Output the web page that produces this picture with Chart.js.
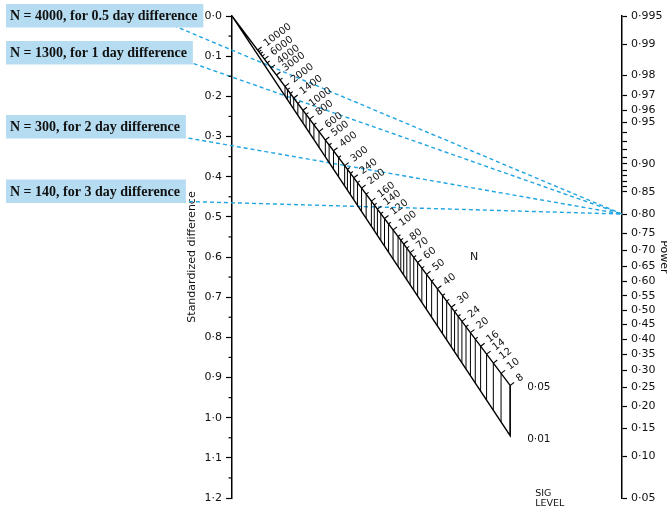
<!DOCTYPE html>
<html>
<head>
<meta charset="utf-8">
<script src="https://cdn.jsdelivr.net/npm/chart.js@4.4.1/dist/chart.umd.min.js"></script>
<style>
  html, body { margin: 0; padding: 0; background: #fff; }
  #wrap { width: 667px; height: 509px; }
</style>
</head>
<body>
<div id="wrap"><canvas id="nomo" width="667" height="509"></canvas></div>
<script>
// ── Data ──────────────────────────────────────────────────────────────────────
const sigLevels   = [0.05, 0.01];
const sigLabels   = ["0·05", "0·01"];
const nMajor      = [10000, 6000, 4000, 3000, 2000, 1400, 1000, 800, 600, 500, 400, 300, 240, 200,
                     160, 140, 120, 100, 80, 70, 60, 50, 40, 30, 24, 20, 16, 14, 12, 10, 8];
const nMinor      = [9000, 8000, 7000, 5000, 2500, 1800, 1600, 1200, 900, 700, 450, 350, 280, 260,
                     220, 180, 150, 130, 110, 90, 85, 75, 65, 55, 45, 36, 33, 28, 26, 22, 18];
const diffMinor   = [0.05, 0.15, 0.25, 0.35, 0.45, 0.55, 0.65, 0.75, 0.85, 0.95, 1.05, 1.15];
const powerTicks  = [0.995, 0.99, 0.98, 0.97, 0.96, 0.95, 0.94, 0.93, 0.92, 0.91, 0.90, 0.89, 0.88,
                     0.87, 0.86, 0.85, 0.80, 0.75, 0.70, 0.65, 0.60, 0.55, 0.50, 0.45, 0.40, 0.35,
                     0.30, 0.25, 0.20, 0.15, 0.10, 0.05];
const powerLabels = ["0·995", "0·99", "0·98", "0·97", "0·96", "0·95", "", "", "", "", "0·90", "", "",
                     "", "", "0·85", "0·80", "0·75", "0·70", "0·65", "0·60", "0·55", "0·50", "0·45",
                     "0·40", "0·35", "0·30", "0·25", "0·20", "0·15", "0·10", "0·05"];
const callouts    = ["N = 4000, for 0.5 day difference", "N = 1300, for 1 day difference",
                     "N = 300, for 2 day difference", "N = 140, for 3 day difference"];
const calloutDiff = [0.085, 0.152, 0.323, 0.465];
const targetPower = 0.80;

// ── Normal quantile (Acklam) ──────────────────────────────────────────────────
function probit(p) {
  const a = [-39.69683028665376, 220.9460984245205, -275.9285104469687, 138.3577518672690, -30.66479806614716, 2.506628277459239];
  const b = [-54.47609879822406, 161.5858368580409, -155.6989798598866, 66.80131188771972, -13.28068155288572];
  const c = [-0.007784894002430293, -0.3223964580411365, -2.400758277161838, -2.549732539343734, 4.374664141464968, 2.938163982698783];
  const d = [0.007784695709041462, 0.3224671290700398, 2.445134137142996, 3.754408661907416];
  const tail = q => (((((c[0]*q+c[1])*q+c[2])*q+c[3])*q+c[4])*q+c[5]) / ((((d[0]*q+d[1])*q+d[2])*q+d[3])*q+1);
  if (p < 0.02425) return tail(Math.sqrt(-2 * Math.log(p)));
  if (p > 0.97575) return -tail(Math.sqrt(-2 * Math.log(1 - p)));
  const q = p - 0.5, r = q * q;
  return (((((a[0]*r+a[1])*r+a[2])*r+a[3])*r+a[4])*r+a[5])*q / (((((b[0]*r+b[1])*r+b[2])*r+b[3])*r+b[4])*r+1);
}

// ── Nomogram geometry (x: 0 = difference axis, 1 = power axis) ────────────────
const DIFF_MAX = 1.2;
const zTop = probit(powerTicks[0]);
const zBot = probit(powerTicks[powerTicks.length - 1]);
const powerToDiff = p => DIFF_MAX * (zTop - probit(p)) / (zTop - zBot);
const slopeB  = DIFF_MAX / (zTop - zBot);
const nPos    = n => 1 / (1 + slopeB * Math.sqrt(n) / 2);
const sigK    = sigLevels.map(a => DIFF_MAX * zTop / (zTop - zBot) + slopeB * probit(1 - a / 2));
const nEnd    = nPos(nMajor[nMajor.length - 1]);
const pTarget = powerToDiff(targetPower);
const X_LEFT  = -0.2;

const datasets = [{
  data: [{ x: 0, y: 0 }, { x: nEnd, y: nEnd * sigK[0] }, { x: nEnd, y: nEnd * sigK[1] }, { x: 0, y: 0 }],
  borderColor: "#000", borderWidth: 1.4, showLine: true, pointRadius: 0, fill: false,
}];
calloutDiff.forEach(dv => datasets.push({
  data: [{ x: X_LEFT, y: dv + X_LEFT * (pTarget - dv) }, { x: 1, y: pTarget }],
  borderColor: "#1fa5e2", borderWidth: 1.4, borderDash: [4, 3], showLine: true,
  pointRadius: 0, fill: false, clip: false,
}));

// ── Custom drawing: N scale, hatching, minor ticks, notes ─────────────────────
const nomoPlugin = {
  id: "nomoPlugin",
  afterDatasetsDraw(chart) {
    const { ctx, chartArea, scales: { x, y } } = chart;
    const pt = (t, k) => ({ x: x.getPixelForValue(t), y: y.getPixelForValue(t * k) });
    ctx.save();
    ctx.strokeStyle = "#000";
    ctx.fillStyle   = "#111";

    // minor ticks on difference axis
    ctx.lineWidth = 1.2;
    diffMinor.forEach(dv => {
      const yy = y.getPixelForValue(dv);
      ctx.beginPath(); ctx.moveTo(chartArea.left - 3.5, yy); ctx.lineTo(chartArea.left, yy); ctx.stroke();
    });

    // hatching between the two significance lines
    ctx.lineWidth = 1;
    [...nMajor, ...nMinor].filter(n => n <= 2000).forEach(n => {
      const a = pt(nPos(n), sigK[0]), b = pt(nPos(n), sigK[1]);
      ctx.beginPath(); ctx.moveTo(a.x, a.y); ctx.lineTo(b.x, b.y); ctx.stroke();
    });

    // N ticks and labels
    const o = pt(0, sigK[0]), e = pt(1, sigK[0]);
    const len = Math.hypot(e.x - o.x, e.y - o.y);
    const ux = (e.x - o.x) / len, uy = (e.y - o.y) / len;
    const nx = uy, ny = -ux;
    const ang = Math.atan2(ny, nx);
    ctx.lineWidth = 1.1;
    const drawTick = (n, l) => {
      const p = pt(nPos(n), sigK[0]);
      ctx.beginPath(); ctx.moveTo(p.x, p.y); ctx.lineTo(p.x + nx * l, p.y + ny * l); ctx.stroke();
      return p;
    };
    nMinor.forEach(n => drawTick(n, 3));
    ctx.font = "10px 'DejaVu Sans'";
    ctx.textAlign = "left"; ctx.textBaseline = "middle";
    nMajor.forEach(n => {
      const p = drawTick(n, 5);
      ctx.save();
      ctx.translate(p.x + nx * 9, p.y + ny * 9);
      ctx.rotate(ang);
      ctx.fillText(String(n), 0, 0);
      ctx.restore();
    });

    // scale notes
    ctx.font = "11px 'DejaVu Sans'";
    const nLab = pt(0.61, 0.6 / 0.61);
    ctx.fillText("N", nLab.x, nLab.y);
    const e05 = pt(nEnd, sigK[0]), e01 = pt(nEnd, sigK[1]);
    ctx.font = "10.5px 'DejaVu Sans'";
    ctx.fillText(sigLabels[0], e05.x + 17, e05.y + 2);
    ctx.fillText(sigLabels[1], e01.x + 17, e01.y + 4);
    ctx.font = "9.5px 'DejaVu Sans'";
    ctx.fillText("SIG", e05.x + 25, chartArea.bottom - 4);
    ctx.fillText("LEVEL", e05.x + 25, chartArea.bottom + 6);

    // callout boxes
    const tops = [4, 41, 115, 179.5];
    ctx.font = "bold 14px 'Liberation Serif'";
    callouts.forEach((txt, i) => {
      const w = ctx.measureText(txt).width + 10;
      ctx.fillStyle = "#b6dcf1";
      ctx.fillRect(6, tops[i], w, 23.5);
      ctx.fillStyle = "#111";
      ctx.fillText(txt, 10, tops[i] + 12.5);
    });
    ctx.restore();
  },
};

// ── Chart ─────────────────────────────────────────────────────────────────────
Chart.defaults.font.family = "'DejaVu Sans'";
Chart.defaults.color = "#111";

new Chart(document.getElementById("nomo").getContext("2d"), {
  type: "scatter",
  data: { datasets },
  plugins: [nomoPlugin],
  options: {
    responsive: false,
    animation: false,
    devicePixelRatio: 1,
    layout: { padding: { left: 186, right: 0, top: 16, bottom: 11 } },
    plugins: { legend: { display: false }, tooltip: { enabled: false } },
    scales: {
      x: { type: "linear", min: 0, max: 1, display: false },
      y: {
        type: "linear", position: "left", reverse: true, min: 0, max: DIFF_MAX,
        afterFit: s => { s.width = 46; },
        ticks: { stepSize: 0.1, padding: 4, font: { size: 11 }, callback: v => v.toFixed(1).replace(".", "·") },
        grid: { drawOnChartArea: false, tickLength: 6, color: "#000", tickWidth: 1.2 },
        border: { display: true, color: "#000", width: 1.5 },
        title: { display: true, text: "Standardized difference", font: { size: 11 }, padding: { top: 0, bottom: 0 } },
      },
      y2: {
        type: "linear", position: "right", min: zBot, max: zTop,
        afterFit: s => { s.width = 45; },
        afterBuildTicks: s => { s.ticks = powerTicks.map(p => ({ value: probit(p) })); },
        ticks: { autoSkip: false, padding: 4, font: { size: 11 }, callback: (v, i) => powerLabels[i] },
        grid: { drawOnChartArea: false, tickLength: 5, color: "#000", tickWidth: 1.2 },
        border: { display: true, color: "#000", width: 1.5 },
        title: { display: true, text: "Power", font: { size: 11 }, padding: { top: -3, bottom: 0 } },
      },
    },
  },
});
</script>
</body>
</html>
